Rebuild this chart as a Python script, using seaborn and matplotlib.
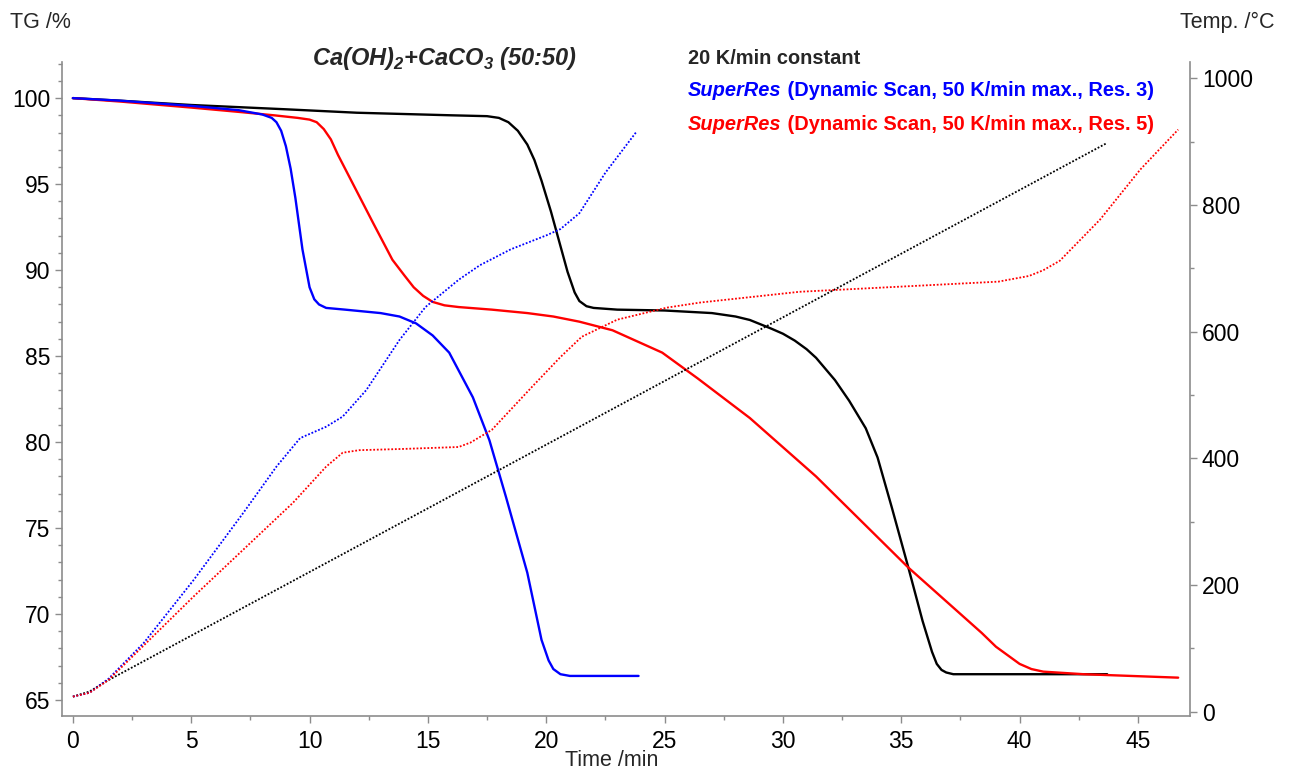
import numpy as np
import pandas as pd
import seaborn as sns
import matplotlib.pyplot as plt
from matplotlib.ticker import MultipleLocator

# TG curves (time /min, mass /%)
tg_const_t = [0, 2, 5, 9, 12, 16, 17.5, 18.0, 18.4, 18.8, 19.2, 19.5, 19.8, 20.2, 20.6, 20.9, 21.2, 21.4, 21.7,
              22.0, 23, 25, 27, 28.0, 28.6, 29.5, 30.0, 30.5, 31.0, 31.4, 32.2, 32.8, 33.5, 34.0, 34.6, 35.3, 35.9,
              36.3, 36.5, 36.7, 36.9, 37.2, 38, 43.7]
tg_const = [100, 99.85, 99.6, 99.35, 99.15, 99.0, 98.95, 98.85, 98.6, 98.1, 97.3, 96.4, 95.2, 93.4, 91.4, 89.9,
            88.7, 88.2, 87.9, 87.8, 87.7, 87.65, 87.5, 87.3, 87.1, 86.6, 86.3, 85.9, 85.4, 84.9, 83.6, 82.4, 80.8,
            79.1, 76.2, 72.7, 69.6, 67.8, 67.1, 66.75, 66.6, 66.5, 66.5, 66.5]

tg_res3_t = [0, 2, 5, 7, 8.0, 8.4, 8.6, 8.8, 9.0, 9.2, 9.4, 9.7, 10.0, 10.2, 10.4, 10.7, 11.5, 13.0, 13.8, 14.5,
             15.2, 15.9, 16.9, 17.6, 18.3, 19.2, 19.8, 20.1, 20.3, 20.6, 21.0, 23.9]
tg_res3 = [100, 99.85, 99.55, 99.3, 99.05, 98.85, 98.6, 98.1, 97.2, 95.9, 94.2, 91.2, 89.0, 88.3, 88.0, 87.8, 87.7,
           87.5, 87.3, 86.9, 86.2, 85.2, 82.6, 80.1, 76.8, 72.4, 68.5, 67.3, 66.8, 66.5, 66.4, 66.4]

tg_res5_t = [0, 2, 5, 7, 8.5, 9.5, 10.0, 10.3, 10.6, 10.9, 11.2, 11.8, 12.7, 13.5, 14.0, 14.4, 14.8, 15.2, 15.7,
             16.3, 17.7, 19.2, 20.3, 21.4, 22.8, 24.9, 26.4, 28.6, 31.4, 35.3, 38.4, 39.0, 39.6, 40.0, 40.5, 41.0,
             42.7, 46.7]
tg_res5 = [100, 99.8, 99.45, 99.2, 99.0, 98.85, 98.75, 98.6, 98.2, 97.6, 96.7, 95.1, 92.7, 90.6, 89.7, 89.0, 88.5,
           88.15, 87.95, 87.85, 87.7, 87.5, 87.3, 87.0, 86.5, 85.2, 83.7, 81.4, 78.0, 72.7, 68.9, 68.1, 67.5, 67.1,
           66.8, 66.65, 66.5, 66.3]

# temperature curves (time /min, T /°C)
temp_const_t = [0, 0.7, 1.4, 2.5, 43.7]
temp_const = [24, 32, 48, 70, 898]

temp_res3_t = [0, 0.7, 1.5, 3.0, 5.1, 7.2, 8.6, 9.6, 10.7, 11.4, 12.4, 13.8, 14.9, 16.3, 17.2, 18.5, 20.0, 20.6,
               21.4, 22.5, 23.8]
temp_res3 = [24, 30, 52, 109, 208, 314, 387, 432, 450, 466, 508, 587, 639, 682, 705, 730, 752, 762, 787, 851, 915]

temp_res5_t = [0, 0.7, 1.5, 3.0, 5.1, 7.2, 9.3, 10.7, 11.4, 12.1, 14, 16.3, 16.8, 17.7, 19.4, 20.6, 21.5, 23.0,
               25.1, 26.5, 30.7, 34.9, 39.1, 40.4, 41.0, 41.7, 43.4, 45.1, 46.7]
temp_res5 = [24, 30, 50, 105, 182, 256, 330, 387, 409, 413, 415, 418, 425, 445, 513, 560, 592, 619, 638, 646, 663,
             671, 679, 688, 697, 712, 777, 856, 919]

sns.set_theme(style='white')
plt.rcParams['font.family'] = ['Liberation Sans', 'DejaVu Sans']
plt.rcParams['mathtext.fontset'] = 'custom'
plt.rcParams['mathtext.bf'] = 'Liberation Sans:bold:italic'
plt.rcParams['mathtext.rm'] = 'Liberation Sans:bold:italic'

fig = plt.figure(figsize=(12.9, 7.7), dpi=100)
ax = fig.add_axes([62 / 1290, 54 / 770, 1128 / 1290, 654 / 770])
ax2 = ax.twinx()

dot = (0, (1, 1))
sns.lineplot(x=temp_const_t, y=temp_const, ax=ax2, color='black', lw=1.3, linestyle=dot, sort=False, estimator=None)
sns.lineplot(x=temp_res3_t, y=temp_res3, ax=ax2, color='#0000ff', lw=1.3, linestyle=dot, sort=False, estimator=None)
sns.lineplot(x=temp_res5_t, y=temp_res5, ax=ax2, color='#ff0000', lw=1.3, linestyle=dot, sort=False, estimator=None)

sns.lineplot(x=tg_const_t, y=tg_const, ax=ax, color='black', lw=1.7, sort=False, estimator=None)
sns.lineplot(x=tg_res5_t, y=tg_res5, ax=ax, color='#ff0000', lw=1.7, sort=False, estimator=None)
sns.lineplot(x=tg_res3_t, y=tg_res3, ax=ax, color='#0000ff', lw=1.7, sort=False, estimator=None)

ax.set_xlim(-0.46, 47.2)
ax.set_ylim(64.07, 102.1)
ax2.set_ylim(-6.6, 1025.7)

ax.xaxis.set_major_locator(MultipleLocator(5))
ax.xaxis.set_minor_locator(MultipleLocator(2.5))
ax.yaxis.set_major_locator(MultipleLocator(5))
ax.yaxis.set_minor_locator(MultipleLocator(1))
ax2.yaxis.set_major_locator(MultipleLocator(200))
ax2.yaxis.set_minor_locator(MultipleLocator(100))

grey = '#8c8c8c'
for a in (ax, ax2):
    a.set_xlabel('')
    a.set_ylabel('')
    for s in a.spines.values():
        s.set_color(grey)
        s.set_linewidth(1.2)
    a.spines['top'].set_visible(False)
    a.tick_params(which='both', direction='out', color=grey, labelsize=16.5, labelcolor='black')
    a.tick_params(which='major', length=5, width=1)
    a.tick_params(which='minor', length=3, width=1)
ax.spines['right'].set_visible(False)
ax2.spines['left'].set_visible(False)
ax2.spines['bottom'].set_visible(False)
ax.tick_params(axis='x', which='both', bottom=True, pad=5)
ax.tick_params(axis='y', which='both', left=True)
ax2.tick_params(axis='y', which='both', right=True)

fig.text(0.008, 1 - 22 / 770, 'TG /%', fontsize=15.5, ha='left', va='center')
fig.text(0.988, 1 - 22 / 770, 'Temp. /°C', fontsize=15.5, ha='right', va='center')
fig.text(612 / 1290, 1 - 760 / 770, 'Time /min', fontsize=15.5, ha='center', va='center')

fig.text(445 / 1290, 1 - 58 / 770, r'Ca(OH)$_\mathbf{2}$+CaCO$_\mathbf{3}$ (50:50)', fontsize=17,
         fontweight='bold', fontstyle='italic', ha='center', va='center')

x0 = 688 / 1290
fs = 14.4
fig.text(x0, 1 - 58 / 770, '20 K/min constant', fontsize=fs, fontweight='bold', ha='left', va='center')
for yy, col, res in [(91, '#0000ff', '3'), (124, '#ff0000', '5')]:
    t1 = fig.text(x0, 1 - yy / 770, 'SuperRes', fontsize=fs, fontweight='bold', fontstyle='italic',
                  color=col, ha='left', va='center')
    ax.annotate(' (Dynamic Scan, 50 K/min max., Res. ' + res + ')', xy=(1, 0), xycoords=t1,
                fontsize=fs, fontweight='bold', color=col, ha='left', va='bottom',
                annotation_clip=False)

fig.savefig('out.png', dpi=100)
